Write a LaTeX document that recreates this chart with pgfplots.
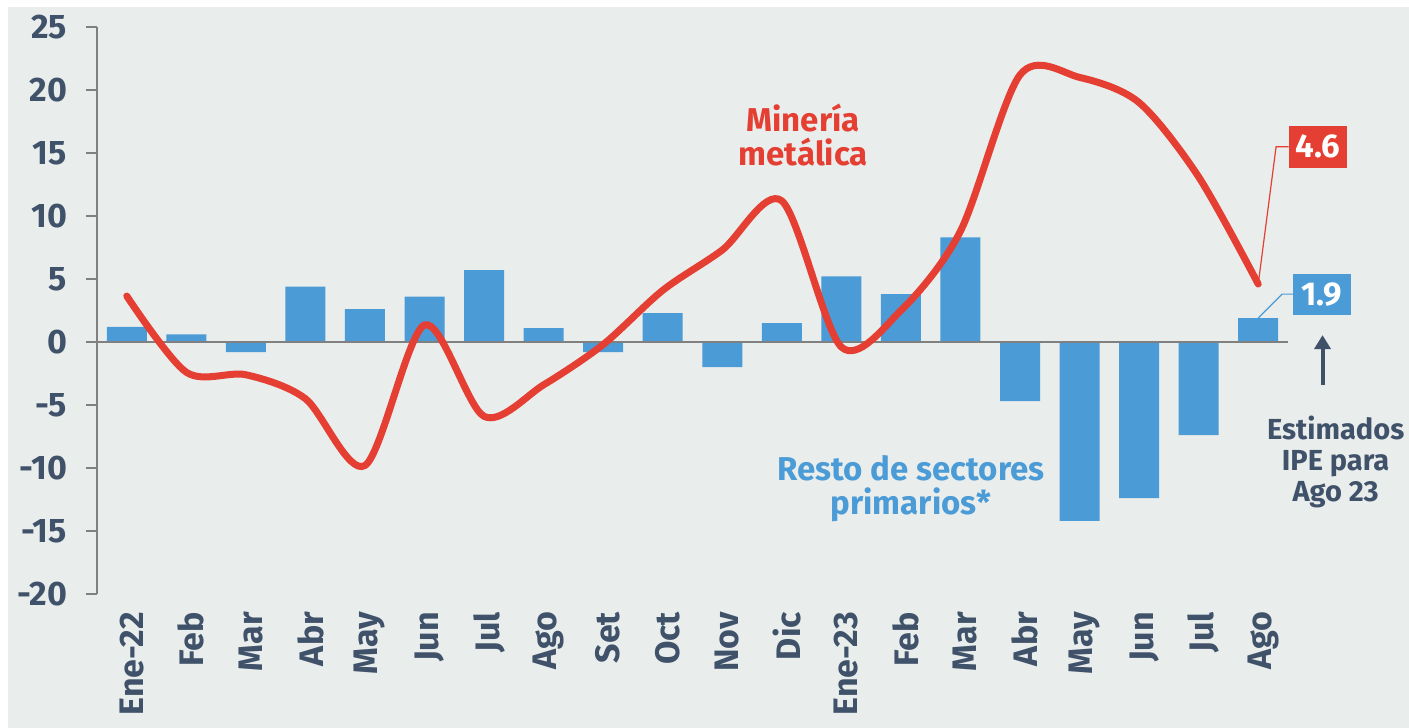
\documentclass[border=0pt]{standalone}
\usepackage{fontspec}
\setmainfont{Fira Sans}
\usepackage{pgfplots}
\pgfplotsset{compat=1.18}
\usetikzlibrary{arrows.meta}
\definecolor{bggray}{RGB}{233,237,236}
\definecolor{barblue}{RGB}{75,155,214}
\definecolor{minred}{RGB}{228,63,50}
\definecolor{textdark}{RGB}{64,82,106}
\definecolor{axisgray}{RGB}{128,128,128}
\newcommand{\lblfont}{\fontsize{16.5}{18}\selectfont\bfseries}
\newcommand{\tickfont}{\fontsize{17}{19}\selectfont\bfseries}
\newcommand{\notefont}{\fontsize{14.5}{15.5}\selectfont\bfseries}
\begin{document}
\begin{tikzpicture}[x=1pt,y=1pt]
\useasboundingbox (0,0) rectangle (704.5,364);
\fill[white] (0,0) rectangle (704.5,364);
\fill[bggray] (4,0) rectangle (704.5,360.5);
\begin{axis}[
  at={(48.5pt,67pt)}, anchor=south west,
  scale only axis, width=595.5pt, height=283.5pt,
  xmin=-0.5, xmax=19.5, ymin=-20, ymax=25,
  clip=false,
  axis y line*=left, axis x line*=bottom,
  x axis line style={draw=none},
  y axis line style={draw=axisgray, line width=0.9pt},
  xtick style={draw=none},
  ytick style={draw=axisgray, line width=0.9pt},
  tick align=outside, major tick length=5.5pt,
  ytick={-20,-15,...,25},
  xtick={0,...,19},
  xticklabels={Ene-22,Feb,Mar,Abr,May,Jun,Jul,Ago,Set,Oct,Nov,Dic,Ene-23,Feb,Mar,Abr,May,Jun,Jul,Ago},
  /pgf/number format/assume math mode=true,
  yticklabel style={font=\tickfont, color=textdark, anchor=east, xshift=-6pt},
  xticklabel style={font=\tickfont, color=textdark, rotate=90, anchor=east, yshift=-2.5pt},
]
\addplot[ybar, bar width=20pt, fill=barblue, draw=none] coordinates {
(0,1.2) (1,0.6) (2,-0.8) (3,4.4) (4,2.6) (5,3.6) (6,5.7) (7,1.1) (8,-0.8) (9,2.3)
(10,-2.0) (11,1.5) (12,5.2) (13,3.8) (14,8.3) (15,-4.7) (16,-14.2) (17,-12.4) (18,-7.4) (19,1.9)};
\draw[axisgray, line width=0.9pt] (axis cs:-0.5,0) -- (axis cs:19.5,0);
\addplot[smooth, color=minred, line width=3.5pt, line cap=round] coordinates {
(0,3.65) (1,-2.4) (2,-2.6) (3,-4.5) (4,-9.8) (5,1.35) (6,-5.9) (7,-3.4) (8,-0.2) (9,4.1)
(10,7.3) (11,11.2) (12,-0.4) (13,2.5) (14,8.8) (15,21.2) (16,21.0) (17,19.0) (18,13.1) (19,4.6)};
\node[font=\lblfont, color=minred, align=center] at (axis cs:11.36,16.4) {Minería\\[-1pt]metálica};
\node[font=\lblfont, color=barblue, align=center] at (axis cs:13.17,-11.6) {Resto de sectores\\[-1pt]primarios*};
\draw[minred, line width=0.6pt] (axis cs:19,4.6) -- (axis cs:19.3,15.5) -- (axis cs:19.51,15.5);
\node[fill=minred, text=white, font=\lblfont, minimum width=29pt, minimum height=21pt, inner sep=0pt] at (axis cs:20.0,15.5) {4.6};
\draw[barblue, line width=0.6pt] (axis cs:19,1.9) -- (axis cs:19.4,3.8) -- (axis cs:19.58,3.8);
\node[fill=barblue, text=white, font=\lblfont, minimum width=29pt, minimum height=20.5pt, inner sep=0pt] at (axis cs:20.07,3.8) {1.9};
\draw[textdark, line width=2pt, -{Triangle[length=7pt,width=8pt]}] (axis cs:20.08,-3.4) -- (axis cs:20.08,0.55);
\node[font=\notefont, color=textdark, align=center] at (axis cs:20.3,-9.5) {Estimados\\IPE para\\Ago 23};
\end{axis}
\end{tikzpicture}
\end{document}
